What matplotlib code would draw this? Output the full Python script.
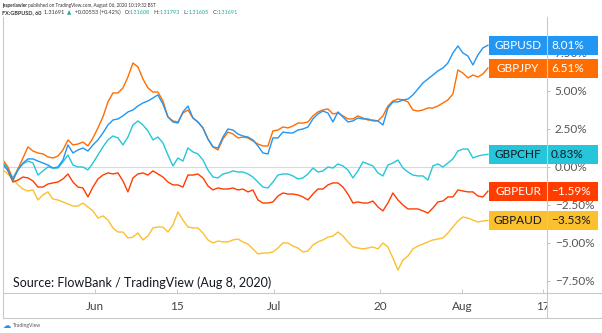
import numpy as np
import matplotlib
matplotlib.use("Agg")
import matplotlib.pyplot as plt
import matplotlib.transforms as mtransforms
from matplotlib.patches import Rectangle
from matplotlib.lines import Line2D
from matplotlib.text import Annotation

plt.rcParams['font.family'] = ['Lato', 'DejaVu Sans']

# % change since mid May, hourly chart sampled
gbpusd = [0.13, -0.20, -0.86, -0.20, 0.26, 0.53, 0.53, 0.39, 0.26, 0.13,
          -0.07, 0.00, 0.46, 1.45, 0.92, 1.12, 1.25, 1.05, 1.45, 1.78,
          2.24, 2.76, 3.09, 3.16, 3.36, 3.62, 3.75, 4.01, 4.21, 4.34,
          4.54, 4.74, 4.14, 3.29, 2.96, 2.89, 3.62, 4.01, 3.22, 2.96,
          2.57, 1.84, 1.32, 1.25, 1.97, 2.50, 2.43, 2.17, 2.04, 1.97,
          1.78, 1.38, 0.92, 0.86, 1.91, 1.91, 2.30, 2.24, 2.24, 2.43,
          2.50, 2.63, 3.16, 3.49, 3.68, 3.55, 2.96, 3.62, 3.29, 2.96,
          3.03, 3.22, 3.16, 3.16, 3.03, 3.03, 2.76, 3.88, 4.28, 4.28,
          4.41, 4.47, 4.74, 5.13, 5.53, 5.79, 6.05, 6.32, 6.51, 6.84,
          7.50, 7.96, 7.50, 7.30, 6.71, 7.37, 7.83, 8.01]
gbpjpy = [0.46, 0.00, -0.86, -0.13, 0.59, 1.32, 1.05, 0.92, 0.86, 0.66,
          0.59, 0.72, 1.12, 1.78, 1.45, 1.51, 1.64, 1.38, 1.91, 2.57,
          3.29, 4.28, 4.87, 4.87, 5.20, 5.92, 6.84, 6.58, 5.79, 5.20,
          4.93, 4.93, 4.34, 3.29, 3.03, 2.96, 3.55, 3.75, 3.22, 2.96,
          2.57, 1.84, 1.32, 1.12, 1.84, 2.30, 2.17, 1.91, 1.97, 1.91,
          1.71, 1.51, 1.38, 1.38, 2.37, 2.43, 2.63, 2.57, 2.70, 2.89,
          2.89, 2.96, 3.36, 3.62, 3.75, 3.82, 3.49, 3.55, 3.36, 3.16,
          3.16, 3.36, 3.22, 3.09, 3.09, 3.03, 3.36, 4.01, 4.34, 4.47,
          4.41, 4.28, 3.75, 3.68, 3.75, 3.88, 3.88, 4.01, 4.21, 4.41,
          4.80, 6.38, 6.18, 5.86, 6.05, 5.92, 6.12, 6.51]
gbpchf = [0.33, -0.13, -0.72, -0.13, 0.20, 0.39, 0.26, -0.53, -0.26, 0.00,
          -0.07, -0.07, 0.33, 0.79, 0.13, 0.00, 0.00, -0.20, 0.26, 0.79,
          1.32, 1.78, 2.04, 1.91, 1.45, 1.97, 2.76, 3.03, 2.76, 2.37,
          1.78, 1.97, 1.58, 0.79, 0.07, 0.59, 0.39, 1.25, 0.99, 0.86,
          0.46, -0.20, -0.66, -0.72, -0.46, -0.39, -0.26, -0.33, -0.33, -0.46,
          -0.66, -0.99, -1.32, -1.38, -0.99, -0.53, -0.46, -0.46, -0.59, -0.79,
          -0.72, -0.46, -0.07, -0.33, -0.26, 0.00, -0.07, 0.20, 0.07, -0.20,
          -0.72, -0.26, 0.33, 0.20, 0.07, -0.39, -0.59, 0.13, 0.26, 0.46,
          -0.07, -0.33, -0.53, -0.59, -0.59, -0.86, 0.07, 0.20, 0.00, 0.26,
          0.53, 1.05, 1.18, 1.18, 0.59, 0.72, 0.79, 0.83]
gbpeur = [0.26, -0.26, -0.99, -0.86, -0.66, -0.72, -0.92, -1.32, -1.32, -1.12,
          -1.05, -0.99, -0.79, -0.46, -0.99, -1.32, -1.38, -1.97, -1.32, -0.79,
          -0.53, -0.39, -0.46, -0.39, -0.92, -1.64, -0.72, -0.46, -0.39, -0.53,
          -0.26, -0.46, -0.66, -0.99, -1.18, -1.18, -1.32, -0.53, -0.53, -0.46,
          -0.72, -1.25, -1.51, -1.38, -1.45, -1.45, -1.38, -1.51, -1.45, -1.64,
          -1.51, -2.17, -2.37, -2.37, -2.30, -1.91, -1.71, -1.78, -1.78, -1.84,
          -1.97, -2.17, -1.78, -1.45, -1.45, -1.18, -1.05, -1.05, -1.32, -1.78,
          -2.37, -2.30, -2.37, -2.37, -2.24, -2.63, -2.89, -2.37, -1.71, -2.17,
          -2.50, -2.76, -2.76, -2.76, -2.89, -3.03, -2.70, -2.30, -2.24, -1.97,
          -1.97, -1.51, -1.58, -1.64, -1.64, -1.91, -1.97, -1.59]
gbpaud = [-0.20, -0.46, -0.79, -1.18, -1.45, -1.58, -1.51, -2.17, -1.84, -1.64,
          -2.11, -2.17, -2.30, -2.43, -2.57, -2.57, -2.37, -2.63, -2.89, -3.36,
          -3.22, -3.49, -4.01, -4.28, -4.28, -4.67, -4.61, -4.34, -4.80, -4.54,
          -4.01, -3.95, -3.95, -4.28, -3.82, -2.96, -3.49, -3.95, -4.01, -4.01,
          -4.34, -4.80, -5.00, -4.87, -4.93, -4.93, -4.80, -4.74, -4.93, -5.07,
          -5.39, -5.72, -5.66, -5.66, -5.59, -5.33, -5.00, -5.00, -5.20, -5.33,
          -5.59, -5.53, -5.13, -4.93, -4.80, -4.61, -4.54, -4.28, -4.54, -4.93,
          -5.26, -5.33, -5.39, -5.33, -5.26, -5.39, -5.00, -5.26, -5.99, -6.78,
          -6.12, -5.86, -5.39, -5.20, -5.07, -4.93, -4.80, -4.74, -4.67, -4.34,
          -3.95, -3.55, -3.29, -3.36, -3.49, -3.62, -3.55, -3.53]

names = ["GBPAUD", "GBPEUR", "GBPCHF", "GBPJPY", "GBPUSD"]
series = [gbpaud, gbpeur, gbpchf, gbpjpy, gbpusd]
colors = ["#fbc02d", "#ff3d00", "#26c6da", "#ff6d00", "#2196f3"]
label_text = ["#131722", "white", "#131722", "white", "white"]

# trading days since May 15
tick_pos = [11, 21, 33, 46, 56, 66]
tick_labels = ["Jun", "15", "Jul", "20", "Aug", "17"]
y_ticks = [-7.5, -5, -2.5, 0, 2.5, 5, 7.5]

days = np.linspace(-0.3, 59.2, len(gbpusd))

W, H = 602, 333
fig = plt.figure(figsize=(W / 100, H / 100), dpi=100)
ax = fig.add_axes([3 / W, 40 / H, 544 / W, 275 / H])
ax.set_xlim(-0.294, 66.45)
ax.set_ylim(-8.29, 9.80)
for s in ax.spines.values():
    s.set_visible(False)

ax.axhline(0, color="#d9d9d9", lw=0.8, zorder=1)
for name, vals, col in zip(names, series, colors):
    ax.plot(days, vals, color=col, lw=1.0, zorder=2)

ax.yaxis.tick_right()
ax.set_yticks(y_ticks)
ax.set_yticklabels([f"{v:.2f}%".replace("-", "\u2212") for v in y_ticks])
ax.tick_params(axis="y", direction="out", length=2.5, width=0.6, color="#b5b5b5",
               pad=3, labelsize=8.5, labelcolor="#555555")
ax.set_xticks(tick_pos)
ax.set_xticklabels(tick_labels)
ax.tick_params(axis="x", direction="in", length=3, width=0.6, color="#c0c0c0",
               pad=6, labelsize=8.5, labelcolor="#444444")

# last value labels
trans = mtransforms.blended_transform_factory(ax.transAxes, ax.transData)
box_h = 1.25
for name, vals, col, tc in zip(names, series, colors, label_text):
    v = vals[-1]
    ax.add_patch(Rectangle((0.8934, v - box_h / 2), 0.1057, box_h, transform=trans,
                           facecolor=col, edgecolor="none", clip_on=False, zorder=6))
    ax.add_patch(Rectangle((1.0009, v - box_h / 2), 0.0928, box_h, transform=trans,
                           facecolor=col, edgecolor="none", clip_on=False, zorder=6))
    ax.text(0.9467, v, name, transform=trans, ha="center", va="center", color=tc,
            fontsize=8.5, clip_on=False, zorder=7)
    ax.text(1.0074, v, f"{v:.2f}%".replace("-", "\u2212"), transform=trans, ha="left",
            va="center", color=tc, fontsize=8.5, clip_on=False, zorder=7)

# frame
def fx(px):
    return px / W

def fy(py):
    return 1 - py / H

fig.add_artist(Rectangle((fx(547.5), fy(318)), fx(55), 25 / H, transform=fig.transFigure,
                         facecolor="white", edgecolor="none", zorder=5))
frame = [((3, 17), (3, 318)), ((547, 17), (547, 318)),
         ((3, 293), (602, 293)), ((3, 318), (602, 318))]
for (x0, y0), (x1, y1) in frame:
    fig.add_artist(Line2D([fx(x0), fx(x1)], [fy(y0), fy(y1)], transform=fig.transFigure,
                          color="#c9c9c9", lw=0.8, zorder=6))

fig.text(fx(13), fy(283), "Source: FlowBank / TradingView (Aug 8, 2020)", fontsize=9,
         color="#131722", va="center", zorder=7)

# header lines
def chain(pieces, x, y, size):
    prev = fig.text(x, y, pieces[0][0], color=pieces[0][1], fontweight=pieces[0][2],
                    fontsize=size, va="bottom")
    for txt, col, wt in pieces[1:]:
        ann = Annotation(txt, xy=(1, 0), xycoords=prev, ha="left", va="bottom",
                         color=col, fontweight=wt, fontsize=size)
        fig.add_artist(ann)
        prev = ann

dark = "#333333"
teal = "#26a69a"
chain([("jasperlawler", dark, "bold"),
       (" published on TradingView.com, August 06, 2020 10:19:32 BST", dark, "normal")],
      fx(2), fy(8), 3.3)
chain([("FX:GBPUSD, 60  ", dark, "bold"), ("1.31691  ", dark, "normal"),
       ("\u25b2", teal, "normal"), ("  +0.00553 (+0.42%)   O:", dark, "normal"),
       ("1.31608", teal, "normal"), ("   H:", dark, "normal"), ("1.31793", teal, "normal"),
       ("   L:", dark, "normal"), ("1.31605", teal, "normal"), ("   C:", dark, "normal"),
       ("1.31691", teal, "normal")],
      fx(2), fy(15), 4.0)

fig.text(fx(3), fy(326), "\u2601", color="#2196f3", fontsize=6, va="center",
         family="DejaVu Sans")
fig.text(fx(13), fy(326), "TradingView", color="#555555", fontsize=3.6, va="center")

fig.savefig("out.png", dpi=100)
